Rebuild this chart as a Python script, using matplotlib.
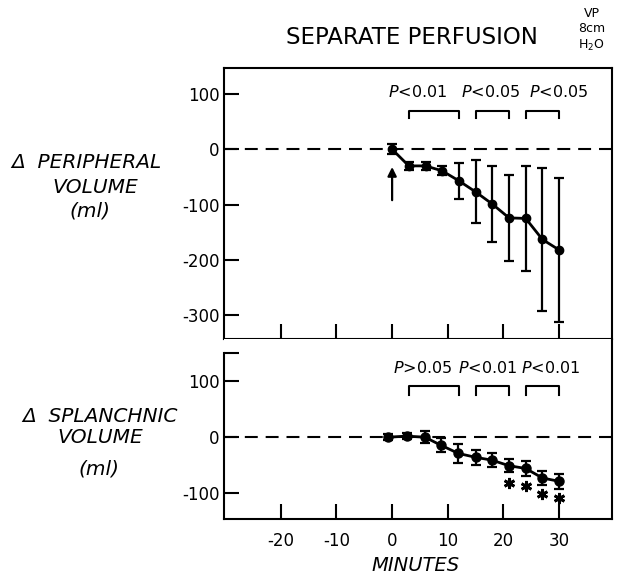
import matplotlib
matplotlib.use("Agg")
import matplotlib.pyplot as plt

plt.rcParams['font.family'] = ['DejaVu Sans']
plt.rcParams['axes.unicode_minus'] = False

# ---- data ----
minutes = [0, 3, 6, 9, 12, 15, 18, 21, 24, 27, 30]
periph_mean = [0, -30, -30, -39, -57, -77, -99, -124, -125, -163, -182]
periph_err = [9, 7, 7, 8, 32, 57, 68, 78, 95, 130, 130]
splanch_minutes = [-0.7, 2.6, 5.9, 8.7, 11.9, 15, 17.9, 21, 24, 27, 30]
splanch_mean = [0, 2, 0, -14, -29, -36, -41, -51, -56, -73, -79]
splanch_err = [5, 5, 11, 12, 17, 13, 13, 12, 14, 13, 13]
star_x = [21, 24, 27, 30]
star_y = [-82, -88, -101, -109]

bracket_start = [3, 15, 24]
bracket_end = [12, 21, 30]
periph_p_labels = ["$P$<0.01", "$P$<0.05", "$P$<0.05"]
periph_p_x = [4.6, 17.7, 30.0]
splanch_p_labels = ["$P$>0.05", "$P$<0.01", "$P$<0.01"]
splanch_p_x = [5.4, 17.1, 28.4]

xticks = [-20, -10, 0, 10, 20, 30]
xtick_labels = ["-20", "-10", "0", "10", "20", "30"]
periph_yticks = [100, 0, -100, -200, -300]
periph_ytick_labels = ["100", "0", "-100", "-200", "-300"]
splanch_yticks = [150, 100, 0, -100]
splanch_ytick_labels = ["", "100", "0", "-100"]

W, H = 620, 578
fig = plt.figure(figsize=(6.2, 5.78), dpi=100)

def fx(px):
    return px / W

def fy(py):
    return 1 - py / H

ax1 = fig.add_axes([fx(224), fy(339), fx(612) - fx(224), fy(68) - fy(339)])
ax2 = fig.add_axes([fx(224), fy(519.3), fx(612) - fx(224), fy(339.5) - fy(519.3)])

lw_spine = 1.5
for ax in (ax1, ax2):
    ax.set_xlim(-30.2, 39.5)
    for s in ax.spines.values():
        s.set_linewidth(lw_spine)
    ax.set_xticks(xticks)
    ax.tick_params(axis='both', direction='in', length=11, width=1.5,
                   labelsize=12, top=False, right=False)
    ax.tick_params(axis='y', pad=3)
    ax.tick_params(axis='x', pad=9)
    ax.axhline(0, color='black', lw=1.5, linestyle=(0, (6.2, 3.8)), zorder=1)

# ---- top panel ----
ax1.set_ylim(-343, 147)
ax1.set_yticks(periph_yticks)
ax1.set_yticklabels(periph_ytick_labels)
ax1.set_xticklabels([])
ax1.errorbar(minutes, periph_mean, yerr=periph_err, color='black', lw=2,
             marker='o', ms=6, elinewidth=1.6, capsize=3.8, capthick=1.6, zorder=3)
ax1.annotate('', xy=(0, -32), xytext=(0, -92),
             arrowprops=dict(arrowstyle='-|>', color='black', lw=1.6,
                             mutation_scale=13, shrinkA=0, shrinkB=0))
for x0, x1, lab, tx in zip(bracket_start, bracket_end, periph_p_labels, periph_p_x):
    ax1.plot([x0, x0, x1, x1], [56, 70, 70, 56], color='black', lw=1.5)
    ax1.text(tx, 103, lab, ha='center', va='center', fontsize=11.5)

# ---- bottom panel ----
ax2.set_ylim(-147, 175)
ax2.spines['top'].set_visible(False)
ax2.spines['left'].set_bounds(-147, 150)
ax2.set_yticks(splanch_yticks)
ax2.set_yticklabels(splanch_ytick_labels)
ax2.set_xticklabels(xtick_labels)
ax2.errorbar(splanch_minutes, splanch_mean, yerr=splanch_err, color='black', lw=2,
             marker='o', ms=6.5, elinewidth=1.6, capsize=3.8, capthick=1.6, zorder=3)
ax2.plot(star_x, star_y, linestyle='none', marker=(6, 2, 0), ms=8, mew=2,
         color='black')
for x0, x1, lab, tx in zip(bracket_start, bracket_end, splanch_p_labels, splanch_p_x):
    ax2.plot([x0, x0, x1, x1], [76, 91, 91, 76], color='black', lw=1.5)
    ax2.text(tx, 124, lab, ha='center', va='center', fontsize=11.5)

# ---- texts ----
fig.text(fx(411.7), fy(38), "SEPARATE PERFUSION", ha='center', va='center',
         fontsize=16.5)
fig.text(fx(591.7), fy(13.5), "VP", ha='center', va='center', fontsize=9)
fig.text(fx(591.7), fy(29), "8cm", ha='center', va='center', fontsize=9)
fig.text(fx(591.7), fy(45), "H$_2$O", ha='center', va='center', fontsize=9)

fig.text(fx(86.7), fy(163), "Δ  PERIPHERAL", ha='center', va='center',
         fontsize=14.5, style='italic')
fig.text(fx(95), fy(187.5), "VOLUME", ha='center', va='center',
         fontsize=14.5, style='italic')
fig.text(fx(90), fy(211), "(ml)", ha='center', va='center',
         fontsize=14.5, style='italic')

fig.text(fx(100), fy(416.7), "Δ  SPLANCHNIC", ha='center', va='center',
         fontsize=14.5, style='italic')
fig.text(fx(100), fy(437.5), "VOLUME", ha='center', va='center',
         fontsize=14.5, style='italic')
fig.text(fx(99), fy(469), "(ml)", ha='center', va='center',
         fontsize=14.5, style='italic')

fig.text(fx(415.7), fy(565.7), "MINUTES", ha='center', va='center',
         fontsize=14, style='italic')

fig.savefig("out.png", dpi=100)
